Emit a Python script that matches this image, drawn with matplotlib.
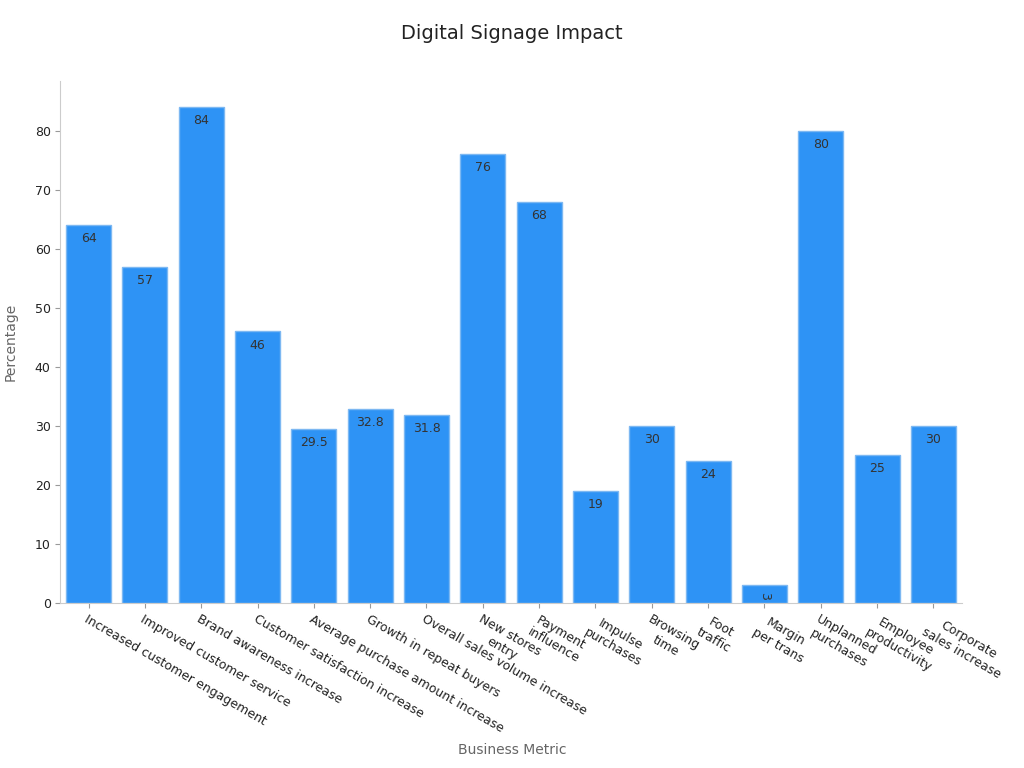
import matplotlib
matplotlib.use("Agg")
import matplotlib.pyplot as plt

categories = ["Increased customer engagement", "Improved customer service", "Brand awareness increase",
              "Customer satisfaction increase", "Average purchase amount increase", "Growth in repeat buyers",
              "Overall sales volume increase", "New stores\nentry", "Payment\ninfluence", "Impulse\npurchases",
              "Browsing\ntime", "Foot\ntraffic", "Margin\nper trans", "Unplanned\npurchases",
              "Employee\nproductivity", "Corporate\nsales increase"]
values = [64, 57, 84, 46, 29.5, 32.8, 31.8, 76, 68, 19, 30, 24, 3, 80, 25, 30]
labels = ["64", "57", "84", "46", "29.5", "32.8", "31.8", "76", "68", "19", "30", "24", "3", "80", "25", "30"]

fig = plt.figure(figsize=(10.24, 7.68), dpi=100)
ax = fig.add_axes([0.059, 0.215, 0.880, 0.68])
x = range(len(values))
bars = ax.bar(x, values, width=0.8, color="#2E93F5", edgecolor="#7DB8F2", linewidth=1)
for xi, v, l in zip(x, values, labels):
    rot = -90 if v < 5 else 0
    ax.text(xi, v - 1.2, l, ha="center", va="top", fontsize=9, color="#333333", rotation=rot)
ax.set_xlim(-0.5, 15.5)
ax.set_ylim(0, 88.5)
ax.set_xticks(list(x))
ax.set_xticklabels(categories, rotation=-30, ha="left", va="top", rotation_mode="anchor",
                   fontsize=9, color="#222222", multialignment="center")
ax.set_yticks(range(0, 90, 10))
ax.tick_params(axis="y", labelsize=9, colors="#222222")
ax.tick_params(axis="both", color="#999999")
for s in ["top", "right"]:
    ax.spines[s].set_visible(False)
for s in ["left", "bottom"]:
    ax.spines[s].set_color("#cccccc")
ax.set_ylabel("Percentage", fontsize=10, color="#666666", labelpad=12)
fig.text(0.5, 0.023, "Business Metric", ha="center", va="center", fontsize=10, color="#666666")
fig.text(0.5, 0.957, "Digital Signage Impact", ha="center", va="center", fontsize=14, color="#222222")
fig.savefig("out.png", dpi=100)
